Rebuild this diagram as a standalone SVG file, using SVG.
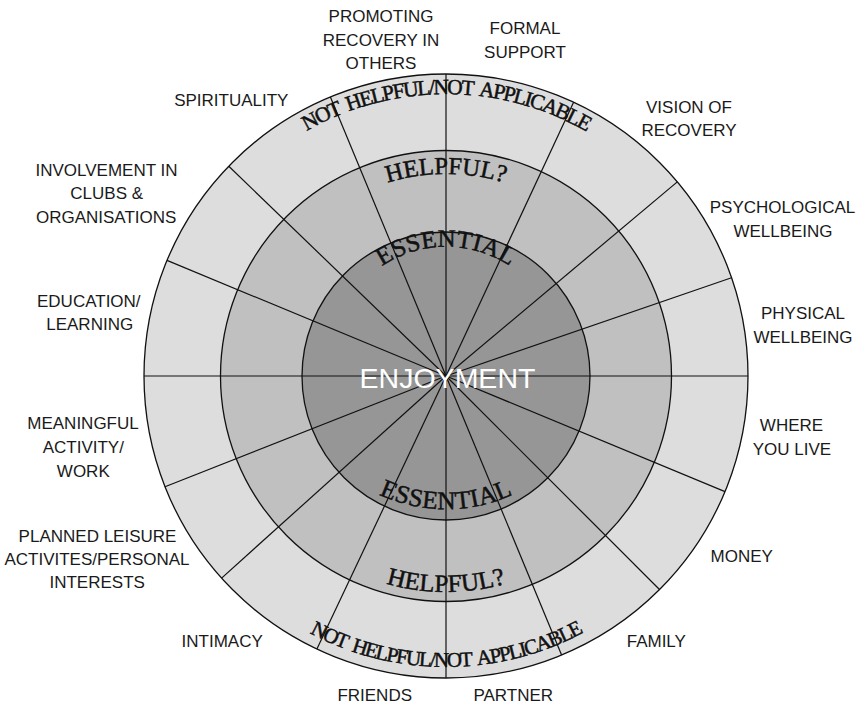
<svg xmlns="http://www.w3.org/2000/svg" width="861" height="706" viewBox="0 0 861 706">
  <style>
    .lbl { font-family: "Liberation Sans", Arial, sans-serif; font-size: 17px; fill: #1a1a1a; text-anchor: middle; }
    .curve { font-family: "Liberation Serif", "Times New Roman", serif; fill: #111; stroke: #111; stroke-width: 0.5px; }
    .ring { stroke: #111; stroke-width: 1.3; }
    .spoke { stroke: #111; stroke-width: 1.2; fill: none; }
    .core { font-family: "Liberation Sans", Arial, sans-serif; font-size: 28.5px; fill: #ffffff; text-anchor: middle; }
  </style>
  <defs>
    <!-- baselines for the curved ring titles -->
    <path id="arcOuterTop" d="M 164 376 A 282 282 0 0 1 728 376"/>
    <path id="arcMidTop" d="M 244 376 A 202 202 0 0 1 648 376"/>
    <path id="arcInnerTop" d="M 331 361.7 A 115 115 0 0 1 561 361.7"/>
    <path id="arcInnerBottom" d="M 286 349.3 A 160 160 0 0 0 606 349.3"/>
    <path id="arcMidBottom" d="M 230 376 A 216 216 0 0 0 662 376"/>
    <path id="arcOuterBottom" d="M 155 376 A 291 291 0 0 0 737 376"/>
  </defs>

  <!-- three concentric bands -->
  <g id="wheel">
    <circle id="band-not-helpful" class="ring" cx="446" cy="376" r="302" fill="#dddddd"/>
    <circle id="band-helpful" class="ring" cx="446" cy="376" r="225.5" fill="#c0c0c0"/>
    <circle id="band-essential" class="ring" cx="446" cy="376" r="144" fill="#969696"/>
  </g>

  <!-- sector dividers -->
  <g id="spokes">
    <line class="spoke" x1="446" y1="376" x2="446" y2="74"/>
    <line class="spoke" x1="446" y1="376" x2="573.6" y2="102.3"/>
    <line class="spoke" x1="446" y1="376" x2="677.3" y2="181.9"/>
    <line class="spoke" x1="446" y1="376" x2="731.5" y2="277.7"/>
    <line class="spoke" x1="446" y1="376" x2="748" y2="376"/>
    <line class="spoke" x1="446" y1="376" x2="725" y2="491.6"/>
    <line class="spoke" x1="446" y1="376" x2="659.5" y2="589.5"/>
    <line class="spoke" x1="446" y1="376" x2="561.6" y2="655"/>
    <line class="spoke" x1="446" y1="376" x2="446" y2="678"/>
    <line class="spoke" x1="446" y1="376" x2="316.9" y2="649"/>
    <line class="spoke" x1="446" y1="376" x2="221.6" y2="578.1"/>
    <line class="spoke" x1="446" y1="376" x2="165" y2="486.7"/>
    <line class="spoke" x1="446" y1="376" x2="144" y2="376"/>
    <line class="spoke" x1="446" y1="376" x2="167" y2="260.4"/>
    <line class="spoke" x1="446" y1="376" x2="228.8" y2="166.2"/>
    <line class="spoke" x1="446" y1="376" x2="330.4" y2="97"/>
  </g>

  <!-- band titles set on arcs -->
  <g id="band-titles">
    <text class="curve" font-size="21.5" letter-spacing="-1.7" word-spacing="4"><textPath href="#arcOuterTop" startOffset="50%" text-anchor="middle">NOT HELPFUL/NOT APPLICABLE</textPath></text>
    <text class="curve" font-size="24.5" letter-spacing="0"><textPath href="#arcMidTop" startOffset="50%" text-anchor="middle">HELPFUL?</textPath></text>
    <text class="curve" font-size="25" letter-spacing="0.3"><textPath href="#arcInnerTop" startOffset="50%" text-anchor="middle">ESSENTIAL</textPath></text>
    <text class="curve" font-size="25.5" letter-spacing="0.3"><textPath href="#arcInnerBottom" startOffset="50%" text-anchor="middle">ESSENTIAL</textPath></text>
    <text class="curve" font-size="25" letter-spacing="0.1"><textPath href="#arcMidBottom" startOffset="50%" text-anchor="middle">HELPFUL?</textPath></text>
    <text class="curve" font-size="21" letter-spacing="-1.7" word-spacing="4"><textPath href="#arcOuterBottom" startOffset="50%" text-anchor="middle">NOT HELPFUL/NOT APPLICABLE</textPath></text>
  </g>

  <g id="hub">
    <text class="core" x="447.5" y="388">ENJOYMENT</text>
  </g>

  <!-- life domains around the rim -->
  <g id="domains">
    <g id="d-promoting"><text class="lbl"><tspan x="381" y="21.7">PROMOTING</tspan><tspan x="381" y="45.7">RECOVERY IN</tspan><tspan x="381" y="69.3">OTHERS</tspan></text></g>
    <g id="d-formal"><text class="lbl"><tspan x="525" y="34.3">FORMAL</tspan><tspan x="525" y="57.7">SUPPORT</tspan></text></g>
    <g id="d-vision"><text class="lbl"><tspan x="689" y="112.7">VISION OF</tspan><tspan x="689" y="136">RECOVERY</tspan></text></g>
    <g id="d-psych"><text class="lbl"><tspan x="782.5" y="213.3">PSYCHOLOGICAL</tspan><tspan x="783" y="236.7">WELLBEING</tspan></text></g>
    <g id="d-physical"><text class="lbl"><tspan x="803" y="319.3">PHYSICAL</tspan><tspan x="803" y="342.7">WELLBEING</tspan></text></g>
    <g id="d-where"><text class="lbl"><tspan x="791.5" y="431">WHERE</tspan><tspan x="792" y="455">YOU LIVE</tspan></text></g>
    <g id="d-money"><text class="lbl" x="741.7" y="562">MONEY</text></g>
    <g id="d-family"><text class="lbl" x="656.3" y="647.3">FAMILY</text></g>
    <g id="d-partner"><text class="lbl" x="513.3" y="701">PARTNER</text></g>
    <g id="d-friends"><text class="lbl" x="374.7" y="701">FRIENDS</text></g>
    <g id="d-intimacy"><text class="lbl" x="222.2" y="646.7">INTIMACY</text></g>
    <g id="d-leisure"><text class="lbl"><tspan x="97.5" y="541.7">PLANNED LEISURE</tspan><tspan x="97" y="565">ACTIVITES/PERSONAL</tspan><tspan x="97.2" y="588.3">INTERESTS</tspan></text></g>
    <g id="d-meaningful"><text class="lbl"><tspan x="83" y="429.3">MEANINGFUL</tspan><tspan x="83.3" y="452.7">ACTIVITY/</tspan><tspan x="83.3" y="476.7">WORK</tspan></text></g>
    <g id="d-education"><text class="lbl"><tspan x="88.8" y="306.7">EDUCATION/</tspan><tspan x="89.7" y="330">LEARNING</tspan></text></g>
    <g id="d-clubs"><text class="lbl"><tspan x="106.5" y="175.7">INVOLVEMENT IN</tspan><tspan x="106.7" y="199.3">CLUBS &amp;</tspan><tspan x="106.2" y="222.7">ORGANISATIONS</tspan></text></g>
    <g id="d-spirituality"><text class="lbl" x="231.3" y="106">SPIRITUALITY</text></g>
  </g>
</svg>
